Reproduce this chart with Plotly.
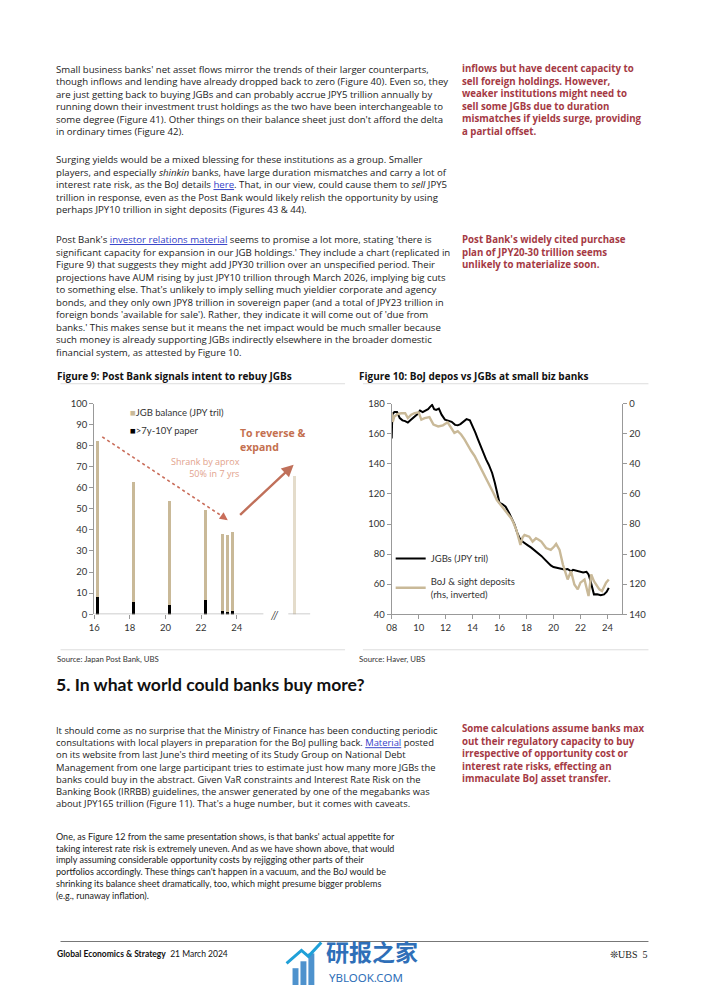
import plotly.graph_objects as go

W, H = 702, 992
def X(p): return p / W
def Y(p): return 1 - p / H

FONT = "Lato"
BODY = "Open Sans"
TXT = "#222222"
RED = "#a53a44"
TAN = "#c9b998"
LINK = "#3340c8"

# ---------------- Figure 9 data (Post Bank JGB holdings, JPY tril) ----------------
fy_dates = [16.18, 18.2, 20.24, 22.27, 23.23, 23.5, 23.78]
jgb_balance = [82.5, 63.0, 54.0, 49.5, 38.3, 37.9, 39.3]
long_paper = [8.3, 6.0, 4.7, 7.0, 1.6, 1.1, 1.8]
target_date = [27.28]
target_balance = [66.0]
fig9_ticks = [16, 18, 20, 22, 24]

# ---------------- Figure 10 data ----------------
jgb_years = [2008.0, 2008.05, 2008.2, 2008.4, 2008.6, 2008.8, 2009.0, 2009.2, 2009.45, 2009.7,
             2009.9, 2010.1, 2010.3, 2010.5, 2010.7, 2010.85, 2011.0, 2011.15, 2011.3, 2011.5,
             2011.7, 2011.95, 2012.2, 2012.45, 2012.7, 2012.9, 2013.1, 2013.35, 2013.55, 2013.8,
             2014.0, 2014.2, 2014.4, 2014.6, 2014.8, 2015.0, 2015.2, 2015.45, 2015.65, 2015.85,
             2016.0, 2016.2, 2016.45, 2016.7, 2016.9, 2017.1, 2017.3, 2017.5, 2017.7, 2017.9,
             2018.1, 2018.35, 2018.6, 2018.85, 2019.1, 2019.35, 2019.55, 2019.8, 2020.0, 2020.3,
             2020.55, 2020.8, 2021.05, 2021.3, 2021.45, 2021.7, 2021.95, 2022.2, 2022.45, 2022.6,
             2022.75, 2022.9, 2023.0, 2023.25, 2023.5, 2023.75, 2023.95, 2024.1]
jgb_values = [157, 173, 174.5, 174.5, 170.5, 169, 168.5, 167.5, 169.5, 171.5,
              173, 175.5, 174.5, 175.5, 176.5, 178, 179.3, 176.5, 176, 176.8,
              172.8, 169.5, 168.6, 168, 166, 165.7, 166.5, 168.5, 169.8, 169,
              165.5, 161, 156.3, 151.5, 147.5, 143, 139.5, 134, 127.5, 119.5,
              114, 113.3, 111.5, 107.5, 103.5, 100, 94.5, 90.5, 88.3, 86.8,
              85.8, 84.3, 82.6, 80.5, 78.8, 76.5, 74.5, 72.5, 71.4, 70.8,
              70.2, 69.7, 70.1, 68.6, 69.5, 68.8, 68.3, 67.8, 68.2, 66.5,
              62, 55.5, 53.2, 53.3, 52.6, 53.2, 55, 57.5]

boj_years = [2008.0, 2008.08, 2008.2, 2008.45, 2008.7, 2009.0, 2009.2, 2009.45, 2009.7, 2010.0,
             2010.2, 2010.45, 2010.8, 2011.1, 2011.45, 2011.8, 2012.15, 2012.4, 2012.65, 2012.9,
             2013.15, 2013.4, 2013.65, 2013.9, 2014.15, 2014.4, 2014.65, 2014.9, 2015.15, 2015.5,
             2015.8, 2016.1, 2016.35, 2016.6, 2016.85, 2017.0, 2017.25, 2017.55, 2017.7, 2017.85,
             2018.2, 2018.45, 2018.7, 2018.9, 2019.1, 2019.45, 2019.8, 2020.05, 2020.2, 2020.45,
             2020.7, 2021.05, 2021.3, 2021.55, 2021.8, 2022.0, 2022.3, 2022.6, 2022.8, 2023.0,
             2023.4, 2023.6, 2023.9, 2024.1]
boj_values = [6, 12, 8.4, 6.8, 6.3, 6.2, 9.5, 7.2, 6.2, 5.7,
              10.5, 9.5, 8.8, 13.8, 15, 14.3, 12.3, 16, 19.3, 18.2,
              20.4, 23.7, 28, 31.4, 34.7, 39, 43.5, 47.8, 51.5, 58.5,
              64, 67.5, 70.5, 73, 76, 78.5, 84, 93.9, 89, 87.3,
              88.4, 91.7, 89.5, 90.5, 91.7, 96, 97.2, 95, 93.2, 97.2,
              107, 116.9, 111.4, 120.2, 123.5, 119, 116.9, 127.9, 113.6, 118,
              123.5, 124.6, 119, 116.9]
fig10_ticks = list(range(2008, 2025, 2))
fig10_ticktext = ["%02d" % (t % 100) for t in fig10_ticks]

# ---------------- Page text ----------------
para1 = [
    "Small business banks' net asset flows mirror the trends of their larger counterparts,",
    "though inflows and lending have already dropped back to zero (Figure 40). Even so, they",
    "are just getting back to buying JGBs and can probably accrue JPY5 trillion annually by",
    "running down their investment trust holdings as the two have been interchangeable to",
    "some degree (Figure 41). Other things on their balance sheet just don't afford the delta",
    "in ordinary times (Figure 42).",
]
L = lambda s: f'<span style="color:{LINK}"><u>{s}</u></span>'
para2 = [
    "Surging yields would be a mixed blessing for these institutions as a group. Smaller",
    "players, and especially <i>shinkin</i> banks, have large duration mismatches and carry a lot of",
    f"interest rate risk, as the BoJ details {L('here')}. That, in our view, could cause them to <i>sell</i> JPY5",
    "trillion in response, even as the Post Bank would likely relish the opportunity by using",
    "perhaps JPY10 trillion in sight deposits (Figures 43 &amp; 44).",
]
para3 = [
    f"Post Bank's {L('investor relations material')} seems to promise a lot more, stating 'there is",
    "significant capacity for expansion in our JGB holdings.' They include a chart (replicated in",
    "Figure 9) that suggests they might add JPY30 trillion over an unspecified period. Their",
    "projections have AUM rising by just JPY10 trillion through March 2026, implying big cuts",
    "to something else. That's unlikely to imply selling much yieldier corporate and agency",
    "bonds, and they only own JPY8 trillion in sovereign paper (and a total of JPY23 trillion in",
    "foreign bonds 'available for sale'). Rather, they indicate it will come out of 'due from",
    "banks.' This makes sense but it means the net impact would be much smaller because",
    "such money is already supporting JGBs indirectly elsewhere in the broader domestic",
    "financial system, as attested by Figure 10.",
]
para4 = [
    "It should come as no surprise that the Ministry of Finance has been conducting periodic",
    f"consultations with local players in preparation for the BoJ pulling back. {L('Material')} posted",
    "on its website from last June's third meeting of its Study Group on National Debt",
    "Management from one large participant tries to estimate just how many more JGBs the",
    "banks could buy in the abstract. Given VaR constraints and Interest Rate Risk on the",
    "Banking Book (IRRBB) guidelines, the answer generated by one of the megabanks was",
    "about JPY165 trillion (Figure 11). That's a huge number, but it comes with caveats.",
]
para5 = [
    "One, as Figure 12 from the same presentation shows, is that banks' actual appetite for",
    "taking interest rate risk is extremely uneven. And as we have shown above, that would",
    "imply assuming considerable opportunity costs by rejigging other parts of their",
    "portfolios accordingly. These things can't happen in a vacuum, and the BoJ would be",
    "shrinking its balance sheet dramatically, too, which might presume bigger problems",
    "(e.g., runaway inflation).",
]
side1 = ["inflows but have decent capacity to", "sell foreign holdings. However,",
         "weaker institutions might need to", "sell some JGBs due to duration",
         "mismatches if yields surge, providing", "a partial offset."]
side2 = ["Post Bank's widely cited purchase", "plan of JPY20-30 trillion seems",
         "unlikely to materialize soon."]
side3 = ["Some calculations assume banks max", "out their regulatory capacity to buy",
         "irrespective of opportunity cost or", "interest rate risks, effecting an",
         "immaculate BoJ asset transfer."]

fig = go.Figure()

# Figure 9 traces
fig.add_trace(go.Bar(x=fy_dates, y=jgb_balance, width=0.17, marker_color=TAN, marker_line_width=0,
                     name="JGB balance (JPY tril)", xaxis="x", yaxis="y", showlegend=False))
fig.add_trace(go.Bar(x=fy_dates, y=long_paper, width=0.15, marker_color="#000000", marker_line_width=0,
                     name=">7y-10Y paper", xaxis="x", yaxis="y", showlegend=False))
fig.add_trace(go.Bar(x=target_date, y=target_balance, width=0.17, marker_color=TAN, opacity=0.5,
                     marker_line_width=0, showlegend=False, xaxis="x", yaxis="y"))

# Figure 10 traces
fig.add_trace(go.Scatter(x=boj_years, y=boj_values, mode="lines", line=dict(color=TAN, width=2.4),
                         name="BoJ &amp; sight deposits<br>(rhs, inverted)", xaxis="x2", yaxis="y3",
                         legend="legend2", legendgroup="b", legendrank=2))
fig.add_trace(go.Scatter(x=jgb_years, y=jgb_values, mode="lines", line=dict(color="#000000", width=2),
                         name="JGBs (JPY tril)", xaxis="x2", yaxis="y2", legend="legend2",
                         legendgroup="a", legendrank=1))

axis_common = dict(showgrid=False, zeroline=False, ticks="outside", ticklen=4, tickcolor="#999999",
                   tickfont=dict(family=FONT, size=9.5, color="#333333"), linecolor="#999999",
                   linewidth=1, fixedrange=True)

fig.update_layout(
    width=W, height=H, margin=dict(l=0, r=0, t=0, b=0),
    paper_bgcolor="white", plot_bgcolor="rgba(0,0,0,0)",
    barmode="overlay", bargap=0,
    font=dict(family=FONT, color=TXT),
    xaxis=dict(domain=[X(89), X(307)], range=[16, 28.14], tickvals=fig9_ticks,
               showline=False, anchor="y", **axis_common),
    yaxis=dict(domain=[Y(615), Y(402)], range=[0, 100], dtick=10, showline=True,
               anchor="x", **axis_common),
    xaxis2=dict(domain=[X(389), X(621.7)], range=[2008, 2025.11], tickvals=fig10_ticks,
                ticktext=fig10_ticktext, showline=True, anchor="y2", **axis_common),
    yaxis2=dict(domain=[Y(615), Y(402.3)], range=[40, 180], dtick=20, showline=True,
                anchor="x2", **axis_common),
    yaxis3=dict(range=[140, 0], dtick=20, overlaying="y2", side="right", showline=True,
                anchor="x2", **axis_common),
    legend2=dict(x=X(388), y=Y(544), xanchor="left", yanchor="top", bgcolor="rgba(0,0,0,0)",
                 font=dict(family=FONT, size=9.5, color="#333333"), traceorder="grouped",
                 tracegroupgap=6, itemwidth=30),
)

shapes = []
# Fig 9 x-axis line with break
shapes.append(dict(type="line", xref="x", yref="y", x0=16, x1=25.5, y0=0, y1=0,
                   line=dict(color="#999999", width=1)))
shapes.append(dict(type="line", xref="x", yref="y", x0=26.9, x1=28.14, y0=0, y1=0,
                   line=dict(color="#999999", width=1)))
# dotted "shrank" arrow
shapes.append(dict(type="line", xref="x", yref="y", x0=16.45, y0=84.2, x1=23.38, y1=45.4,
                   line=dict(color="#c96d5a", width=1.6, dash="dot")))
# separators
for (x0, x1, y) in [(55, 342, 382), (360, 648, 382), (55, 342, 651), (360, 648, 651)]:
    shapes.append(dict(type="line", xref="paper", yref="paper", x0=X(x0), x1=X(x1), y0=Y(y), y1=Y(y),
                       line=dict(color="#dddddd", width=1)))
shapes.append(dict(type="line", xref="paper", yref="paper", x0=X(55), x1=X(648), y0=Y(946), y1=Y(946),
                   line=dict(color="#777777", width=1)))
# watermark icon bars
for (x0, x1, y0) in [(289, 295, 973), (297, 303, 966), (305, 311, 958)]:
    shapes.append(dict(type="rect", xref="paper", yref="paper", x0=X(x0), x1=X(x1), y0=Y(990), y1=Y(y0),
                       fillcolor="#2f7fc4", line_width=0, opacity=0.85))
shapes.append(dict(type="path", xref="paper", yref="paper",
                   path=f"M {X(283)},{Y(968)} L {X(298)},{Y(955)} L {X(305)},{Y(961)} L {X(318)},{Y(947)}",
                   line=dict(color="#1fa0d8", width=3)))
fig.update_layout(shapes=shapes)

ann = []
def text(x, y, s, size=10, color=TXT, bold=False, anchor="left", family=BODY):
    ann.append(dict(x=X(x), y=Y(y), xref="paper", yref="paper", xanchor=anchor, yanchor="middle",
                    showarrow=False, text=f"<b>{s}</b>" if bold else s,
                    font=dict(family=family, size=size, color=color)))

def block(lines, x, first_center, size, color=TXT, bold=False, family=BODY):
    # one multi-line annotation; plotly line height is 1.3 em
    top = first_center - 0.65 * size - 1
    s = "<br>".join(lines)
    if bold:
        s = "<b>" + s.replace("<br>", "</b><br><b>") + "</b>"
    ann.append(dict(x=X(x), y=Y(top), xref="paper", yref="paper", xanchor="left", yanchor="top",
                    align="left", showarrow=False, text=s,
                    font=dict(family=family, size=size, color=color)))

block(para1, 48, 63, 9.6)
block(para2, 48, 154, 9.65)
block(para3, 48, 235, 9.62)
block(para4, 48, 731, 9.4)
block(para5, 48, 839, 9.0, family=FONT)
block(side1, 458, 62, 9.7, bold=True, color=RED)
block(side2, 458, 235, 9.7, bold=True, color=RED)
block(side3, 458, 729.5, 9.7, bold=True, color=RED)

text(49, 374, "Figure 9: Post Bank signals intent to rebuy JGBs", size=10, bold=True, color="#111111")
text(354, 374, "Figure 10: BoJ depos vs JGBs at small biz banks", size=10, bold=True, color="#111111")
text(49, 660, "Source: Japan Post Bank, UBS", size=7.8, color="#333333", family=FONT)
text(354, 660, "Source: Haver, UBS", size=7.8, color="#333333", family=FONT)
text(48, 686, "5. In what world could banks buy more?", size=17.6, bold=True, color="#111111", family=FONT)
text(49, 959, "<b>Global Economics &amp; Strategy</b>  21 March 2024", size=8.5, color="#111111", family=FONT)
text(649, 959, "❊UBS  5", size=10, color="#222222", anchor="right", family="Liberation Serif")
text(321, 956, "研报之家", size=23, color="#2f6fb8", family="Noto Sans CJK SC", bold=True)
text(324, 982, "YBLOOK.COM", size=11.5, color="#2f6fb8", family="Noto Sans")

# Figure 9 legend (as text with square glyphs)
text(123, 411, f'<span style="color:{TAN}">■</span>JGB balance (JPY tril)', size=9.5,
     color="#333333", family=FONT)
text(123, 429, '<span style="color:#000000">■</span>&gt;7y-10Y paper', size=9.5,
     color="#333333", family=FONT)

# Figure 9 annotations
ann.append(dict(x=24.1, y=90.5, xref="x", yref="y", xanchor="left", yanchor="top", align="left",
                showarrow=False, text="<b>To reverse &amp;<br>expand</b>",
                font=dict(family=BODY, size=10.5, color="#c4704f")))
ann.append(dict(x=24.3, y=76.5, xref="x", yref="y", xanchor="right", yanchor="top", align="right",
                showarrow=False, text="Shrank by aprox<br>50% in 7 yrs",
                font=dict(family=BODY, size=9, color="#e2a28c")))
ann.append(dict(x=23.5, y=44.6, ax=23.25, ay=46.1, xref="x", yref="y", axref="x", ayref="y",
                showarrow=True, arrowhead=2, arrowsize=1, arrowwidth=1.6, arrowcolor="#c96d5a", text=""))
ann.append(dict(x=27.2, y=71.0, ax=24.11, ay=46.5, xref="x", yref="y", axref="x", ayref="y",
                showarrow=True, arrowhead=2, arrowsize=1, arrowwidth=2.4, arrowcolor="#c0705a", text=""))
ann.append(dict(x=26.07, y=0, xref="x", yref="y", xanchor="center", yanchor="middle", showarrow=False,
                text="<i>//</i>", font=dict(family=FONT, size=11, color="#333333")))

fig.update_layout(annotations=ann)
fig.write_html("out.html", config={"displayModeBar": False},
               post_script="document.body.style.margin='0';")
